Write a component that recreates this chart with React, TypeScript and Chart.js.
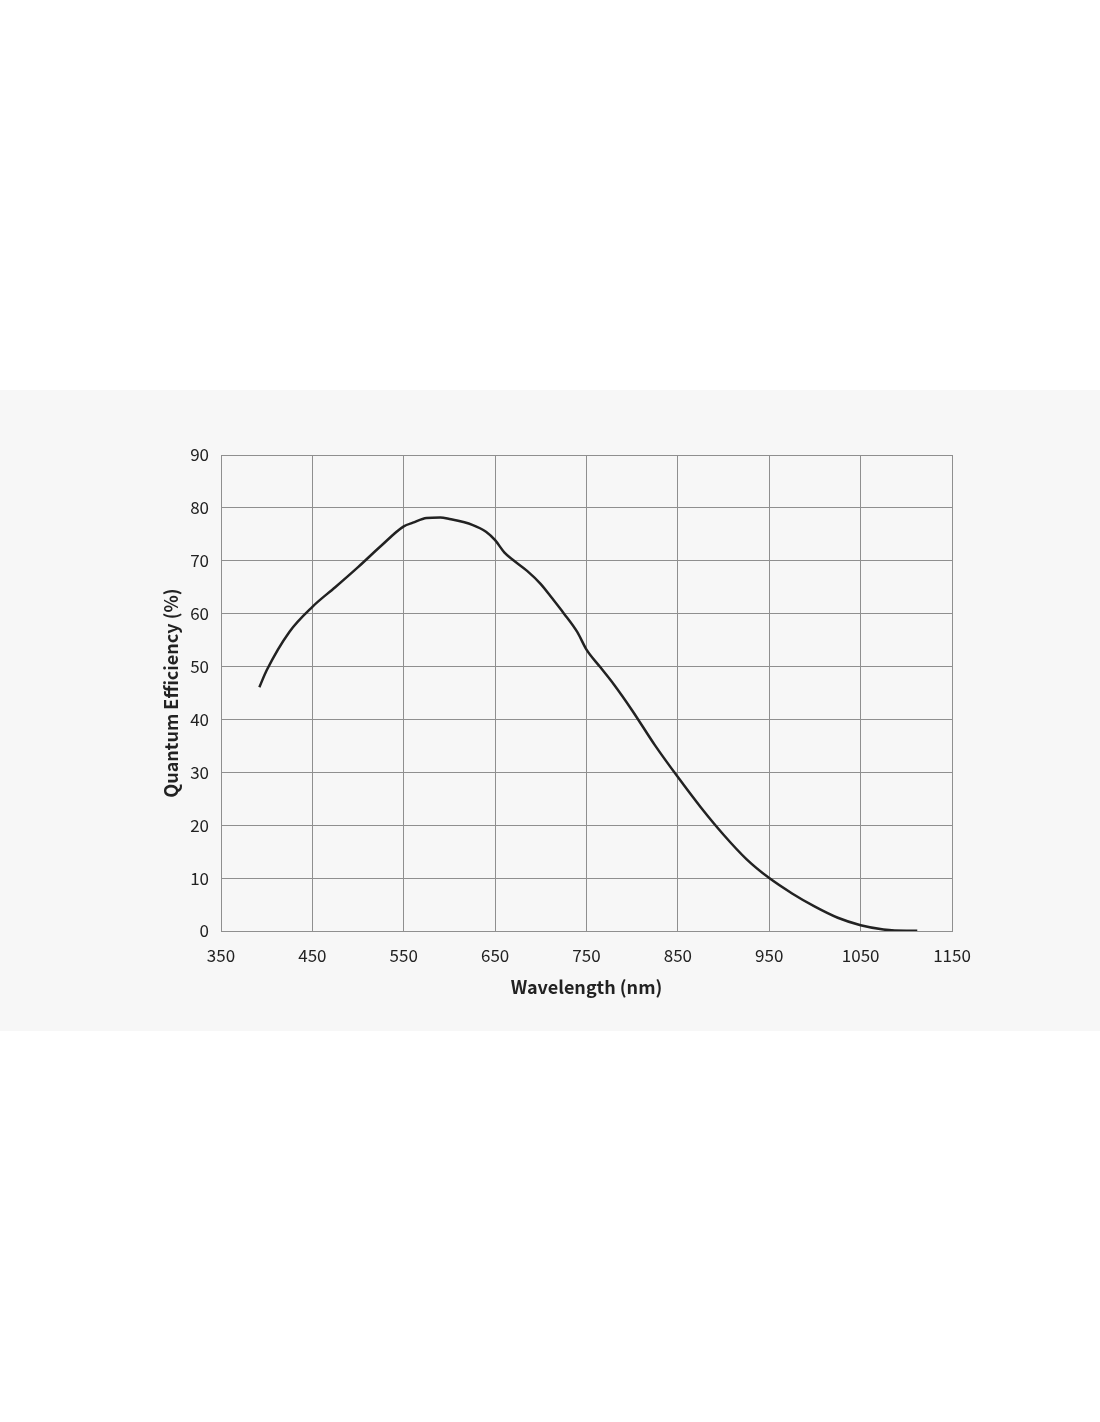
import { useEffect, useRef } from 'react';
import Chart from 'chart.js/auto';

// wavelength (nm) and quantum efficiency (%)
const wavelengths = [
  392, 400, 425, 450, 475, 500, 525, 550, 560, 575, 590, 600, 625, 640, 650, 660, 670, 685, 700,
  712, 725, 740, 750, 765, 780, 800, 825, 850, 875, 900, 925, 950, 975, 1000, 1025, 1050, 1075,
  1100, 1112,
];
const efficiency = [
  46.1, 49.3, 56.6, 61.3, 65.0, 68.8, 72.8, 76.5, 77.2, 78.1, 78.2, 77.9, 76.8, 75.5, 73.9, 71.6,
  70.1, 68.1, 65.6, 63.0, 60.1, 56.5, 53.2, 49.9, 46.6, 41.7, 35.1, 29.1, 23.4, 18.2, 13.6, 10.0,
  7.1, 4.6, 2.5, 1.1, 0.3, 0.05, 0.05,
];

const xTitle = 'Wavelength (nm)';
const yTitle = 'Quantum Efficiency (%)';

const FONT = '"Noto Sans CJK SC", "Noto Sans", sans-serif';
const GRID = '#8f8f8f';

export default function App() {
  const chartRef = useRef<HTMLCanvasElement>(null);
  const chartInstance = useRef<Chart | null>(null);

  useEffect(() => {
    if (!chartRef.current) return;

    if (chartInstance.current) {
      chartInstance.current.destroy();
    }

    const ctx = chartRef.current.getContext('2d');
    if (!ctx) return;

    const points = wavelengths.map((w, i) => ({ x: w, y: efficiency[i] }));

    chartInstance.current = new Chart(ctx, {
      type: 'scatter',
      data: {
        datasets: [
          {
            data: points,
            showLine: true,
            borderColor: '#222222',
            borderWidth: 2.5,
            pointRadius: 0,
            cubicInterpolationMode: 'monotone',
          },
        ],
      },
      options: {
        animation: false,
        responsive: false,
        layout: {
          padding: { top: 25, right: 48, bottom: 0, left: 0 },
        },
        plugins: {
          legend: { display: false },
          tooltip: { enabled: false },
        },
        scales: {
          x: {
            type: 'linear',
            min: 350,
            max: 1150,
            afterFit: (scale) => {
              scale.height = 71;
            },
            ticks: {
              stepSize: 100,
              color: '#222',
              padding: 14,
              font: { family: FONT, size: 17 },
              callback: (value) => String(value),
            },
            grid: { color: GRID, lineWidth: 1, drawTicks: false },
            border: { color: GRID, width: 1 },
            title: {
              display: true,
              text: xTitle,
              color: '#222',
              font: { family: FONT, size: 18, weight: 'bold' },
              padding: { top: 4, bottom: 4 },
            },
          },
          y: {
            type: 'linear',
            min: 0,
            max: 90,
            afterFit: (scale) => {
              scale.width = 65;
            },
            ticks: {
              stepSize: 10,
              color: '#222',
              padding: 12,
              font: { family: FONT, size: 17 },
            },
            grid: { color: GRID, lineWidth: 1, drawTicks: false },
            border: { color: GRID, width: 1 },
            title: {
              display: true,
              text: yTitle,
              color: '#222',
              font: { family: FONT, size: 18, weight: 'bold' },
              padding: { top: 4, bottom: 4 },
            },
          },
        },
      },
    });

    return () => {
      if (chartInstance.current) {
        chartInstance.current.destroy();
        chartInstance.current = null;
      }
    };
  }, []);

  return (
    <div>
      <div
        style={{
          position: 'absolute',
          left: 0,
          top: 390,
          width: 1100,
          height: 641,
          background: '#f7f7f7',
        }}
      />
      <div style={{ position: 'absolute', left: 156, top: 430, width: 844, height: 572 }}>
        <canvas ref={chartRef} width={844} height={572} style={{ width: 844, height: 572 }} />
      </div>
    </div>
  );
}
